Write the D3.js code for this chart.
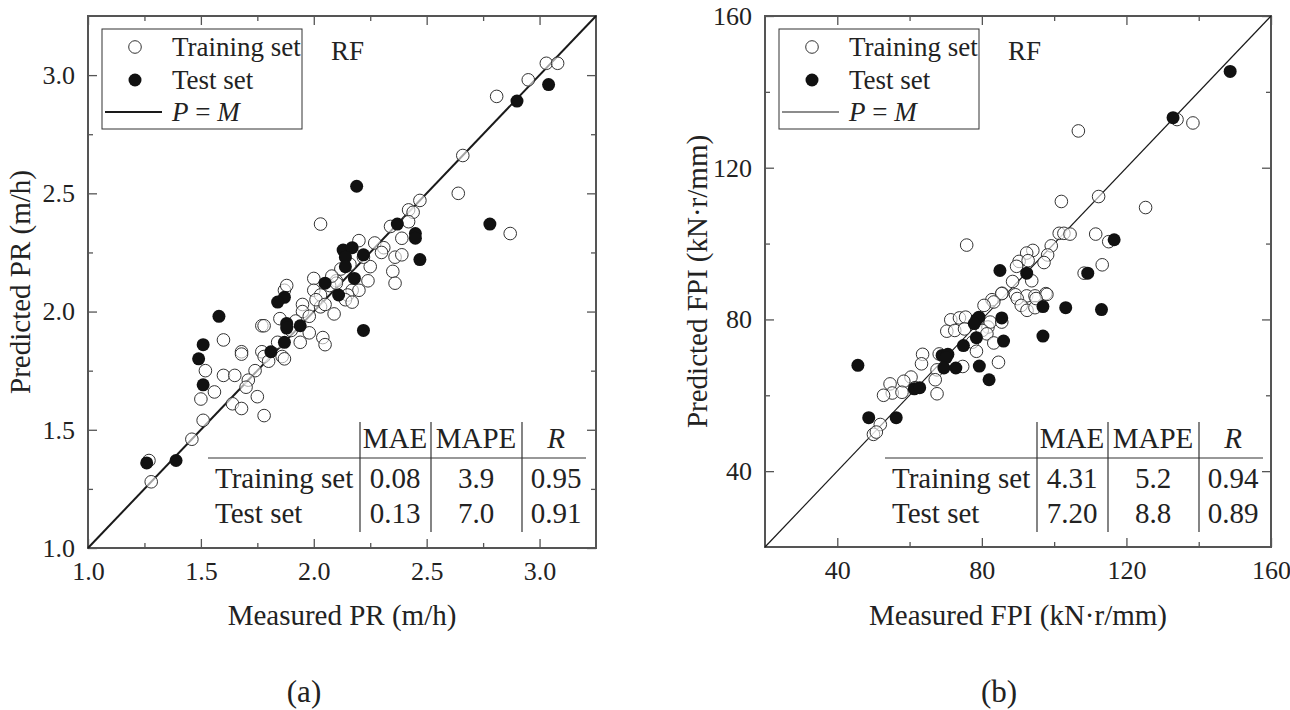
<!DOCTYPE html>
<html>
<head>
  <meta charset="utf-8" />
  <script src="https://d3js.org/d3.v7.min.js"></script>
  <style>
    body { margin: 0; padding: 0; background-color: #ffffff; }
    svg { display: block; }
    .tick line { stroke: #555; stroke-width: 1.3; }
  </style>
</head>
<body>
  <svg id="chart" width="1290" height="710"></svg>
  <script>
    // ---- data: [measured, predicted] pairs ----
    const prTrain = [
      [3.03,3.05],[3.08,3.05],[2.95,2.98],[2.81,2.91],[2.66,2.66],[2.64,2.50],[2.87,2.33],[2.03,2.37],
      [2.47,2.47],[2.42,2.43],[2.44,2.42],[2.34,2.36],[2.39,2.31],[2.42,2.38],[2.20,2.30],[2.27,2.29],
      [2.31,2.27],[2.36,2.23],[2.39,2.24],[2.35,2.17],[2.36,2.12],[2.25,2.19],[2.24,2.13],[2.00,2.14],
      [2.00,2.09],[2.10,2.13],[1.87,2.09],[2.03,2.07],[2.17,2.09],[2.20,2.09],[2.15,2.07],
      [1.88,2.11],[2.07,2.11],[2.14,2.05],[2.17,2.04],[1.95,2.03],[1.95,2.00],[1.85,1.97],[2.09,1.99],
      [2.03,2.02],[1.77,1.94],[1.78,1.94],[1.98,1.91],[1.94,1.87],[2.04,1.89],[2.05,1.86],[1.84,1.87],
      [1.60,1.88],[1.68,1.83],[1.68,1.82],[1.77,1.83],[1.78,1.81],[1.86,1.81],[1.87,1.80],[1.80,1.79],
      [1.74,1.75],[1.52,1.75],[1.60,1.73],[1.65,1.73],[1.71,1.71],[1.70,1.68],[1.50,1.63],[1.56,1.66],
      [1.75,1.64],[1.64,1.61],[1.68,1.59],[1.78,1.56],[1.51,1.54],[1.46,1.46],[1.27,1.37],[1.28,1.28],
      [2.01,2.05],[2.05,2.03],[1.98,1.98],[2.10,2.12],[2.12,2.18],[2.08,2.15],[2.16,2.20],[2.22,2.23],
      [2.30,2.25],[1.90,1.92],[1.92,1.96]
    ];
    const prTest = [
      [3.04,2.96],[2.90,2.89],[2.19,2.53],[2.78,2.37],[2.37,2.37],[2.45,2.33],[2.45,2.31],[2.47,2.22],
      [2.13,2.26],[2.17,2.27],[2.22,2.24],[2.14,2.23],[2.14,2.19],[2.18,2.14],[2.05,2.12],[2.11,2.07],
      [1.87,2.06],[1.84,2.04],[1.58,1.98],[1.88,1.95],[1.88,1.93],[1.94,1.94],[2.22,1.92],[1.51,1.86],
      [1.87,1.87],[1.49,1.80],[1.81,1.83],[1.51,1.69],[1.26,1.36],[1.39,1.37]
    ];
    const fpiTrain = [
      [134.0,132.7],[138.4,131.8],[106.7,129.7],[112.3,112.4],[102.0,111.1],[125.3,109.5],[75.8,99.6],
      [101.4,102.7],[102.7,102.7],[104.4,102.5],[111.5,102.5],[115.1,100.5],[99.2,99.4],[94.1,98.2],
      [92.4,97.5],[98.2,97.0],[90.3,95.3],[92.8,95.5],[97.2,95.0],[89.6,94.0],[113.3,94.4],[108.3,92.2],
      [88.5,90.0],[93.8,90.2],[85.6,86.9],[89.3,86.5],[92.4,86.2],[94.7,86.2],[97.7,86.8],[82.8,85.2],
      [89.8,85.5],[90.9,83.7],[92.5,82.4],[94.7,83.1],[98.0,86.6],[95.0,85.5],[85.5,86.8],[83.3,84.6],
      [80.6,83.7],[71.4,79.9],[73.8,80.4],[75.5,80.6],[70.3,76.9],[72.5,77.1],[75.2,77.5],[81.7,78.0],
      [82.3,79.3],[85.5,79.3],[80.1,77.1],[81.4,76.2],[83.3,73.8],[77.4,74.0],[78.5,71.6],[68.2,70.9],
      [63.6,70.8],[63.3,68.3],[74.7,67.6],[84.6,68.7],[67.6,66.7],[67.1,64.1],[60.4,64.8],[58.4,63.7],
      [54.6,63.0],[55.2,60.6],[52.8,60.0],[57.9,60.8],[67.6,60.4],[61.5,62.0],[51.9,52.3],[50.0,49.7],
      [50.8,50.3]
    ];
    const fpiTest = [
      [148.7,145.4],[132.9,133.2],[116.6,101.0],[85.0,92.9],[92.4,92.2],[109.3,92.2],[96.9,83.4],
      [103.2,83.1],[113.1,82.6],[85.5,80.4],[78.5,79.9],[79.2,80.6],[77.9,78.9],[96.9,75.6],[78.5,75.2],
      [86.0,74.3],[74.9,73.1],[69.0,70.5],[70.6,70.8],[70.1,69.9],[69.5,67.2],[72.8,67.2],[79.3,67.7],
      [45.7,67.9],[82.0,64.1],[61.3,61.7],[62.8,62.0],[48.7,54.1],[56.3,54.1]
    ];

    const prMajor = [1.0, 1.5, 2.0, 2.5, 3.0];
    const prMinor = [1.25, 1.75, 2.25, 2.75];
    const fpiMajor = [40, 80, 120, 160];
    const fpiMinor = [60, 100, 140];

    const tableCols = ["MAE", "MAPE", "R"];
    const tableRows = ["Training set", "Test set"];
    const prStats = [["0.08", "3.9", "0.95"], ["0.13", "7.0", "0.91"]];
    const fpiStats = [["4.31", "5.2", "0.94"], ["7.20", "8.8", "0.89"]];

    const serif = "'Liberation Serif', 'DejaVu Serif', serif";
    const svg = d3.select("#chart");
    svg.append("rect").attr("width", 1290).attr("height", 710).attr("fill", "#fff");

    function label(g, x, y, size, str) {
      return g.append("text").attr("x", x).attr("y", y)
        .style("font-family", serif).style("font-size", size + "px").style("fill", "#222")
        .text(str);
    }

    function drawPanel(cfg) {
      const x = d3.scaleLinear().domain(cfg.domain).range([cfg.left, cfg.right]);
      const y = d3.scaleLinear().domain(cfg.domain).range([cfg.bottom, cfg.top]);
      const g = svg.append("g");
      const fmt = cfg.format;

      // axes, ticks pointing inward on all four sides
      g.append("g").attr("transform", `translate(0,${cfg.bottom})`)
        .call(d3.axisBottom(x).tickValues(cfg.major).tickSize(-9).tickPadding(14).tickFormat(fmt));
      g.append("g").attr("transform", `translate(0,${cfg.bottom})`)
        .call(d3.axisBottom(x).tickValues(cfg.minor).tickSize(-5).tickFormat(""));
      g.append("g").attr("transform", `translate(${cfg.left},0)`)
        .call(d3.axisLeft(y).tickValues(cfg.major).tickSize(-9).tickPadding(13).tickFormat(fmt));
      g.append("g").attr("transform", `translate(${cfg.left},0)`)
        .call(d3.axisLeft(y).tickValues(cfg.minor).tickSize(-5).tickFormat(""));
      g.append("g").attr("transform", `translate(0,${cfg.top})`)
        .call(d3.axisTop(x).tickValues(cfg.major).tickSize(-9).tickFormat(""));
      g.append("g").attr("transform", `translate(0,${cfg.top})`)
        .call(d3.axisTop(x).tickValues(cfg.minor).tickSize(-5).tickFormat(""));
      g.append("g").attr("transform", `translate(${cfg.right},0)`)
        .call(d3.axisRight(y).tickValues(cfg.major).tickSize(-9).tickFormat(""));
      g.append("g").attr("transform", `translate(${cfg.right},0)`)
        .call(d3.axisRight(y).tickValues(cfg.minor).tickSize(-5).tickFormat(""));
      g.selectAll(".domain").remove();
      g.selectAll(".tick text")
        .style("font-family", serif).style("font-size", "26px").style("fill", "#222");

      g.append("rect")
        .attr("x", cfg.left).attr("y", cfg.top)
        .attr("width", cfg.right - cfg.left).attr("height", cfg.bottom - cfg.top)
        .attr("fill", "none").attr("stroke", "#555").attr("stroke-width", 2);

      // P = M line
      g.append("line")
        .attr("x1", x(cfg.domain[0])).attr("y1", y(cfg.domain[0]))
        .attr("x2", x(cfg.domain[1])).attr("y2", y(cfg.domain[1]))
        .attr("stroke", "#1a1a1a").attr("stroke-width", cfg.lineW);

      // points
      g.append("g").selectAll("circle").data(cfg.train).join("circle")
        .attr("cx", d => x(d[0])).attr("cy", d => y(d[1])).attr("r", 6.3)
        .attr("fill", "#fff").attr("fill-opacity", 0.6).attr("stroke", "#333").attr("stroke-width", 1);
      g.append("g").selectAll("circle").data(cfg.test).join("circle")
        .attr("cx", d => x(d[0])).attr("cy", d => y(d[1])).attr("r", 6.5)
        .attr("fill", "#111");

      // legend
      const L = cfg.left;
      g.append("rect").attr("x", L + 14).attr("y", 29).attr("width", 200).attr("height", 100)
        .attr("fill", "#fff").attr("stroke", "#333").attr("stroke-width", 1);
      g.append("circle").attr("cx", L + 47).attr("cy", 47).attr("r", 6.3)
        .attr("fill", "#fff").attr("stroke", "#333");
      g.append("circle").attr("cx", L + 47).attr("cy", 80).attr("r", 6.5).attr("fill", "#111");
      g.append("line").attr("x1", L + 17).attr("x2", L + 74).attr("y1", 112).attr("y2", 112)
        .attr("stroke", "#1a1a1a").attr("stroke-width", cfg.lineW);
      label(g, L + 84, 56, 27, "Training set");
      label(g, L + 84, 89, 27, "Test set");
      const pm = label(g, L + 84, 121, 27, null);
      pm.append("tspan").style("font-style", "italic").text("P");
      pm.append("tspan").text(" = ");
      pm.append("tspan").style("font-style", "italic").text("M");
      label(g, L + 243, 60, 27, "RF");

      // statistics table
      const colX = [L + 307, L + 388, L + 468];
      g.append("line").attr("x1", L + 120).attr("x2", L + 498).attr("y1", 458).attr("y2", 458)
        .attr("stroke", "#333").attr("stroke-width", 1.2);
      [L + 272, L + 343, L + 434].forEach(sx => {
        g.append("line").attr("x1", sx).attr("x2", sx).attr("y1", 422).attr("y2", 532)
          .attr("stroke", "#333").attr("stroke-width", 1.2);
      });
      tableCols.forEach((c, i) => {
        label(g, colX[i], 448, 29, c).attr("text-anchor", "middle")
          .style("font-style", c === "R" ? "italic" : null);
      });
      tableRows.forEach((r, j) => {
        const yy = 488 + j * 35;
        label(g, L + 127, yy, 29, r);
        cfg.stats[j].forEach((v, i) => {
          label(g, colX[i], yy, 29, v).attr("text-anchor", "middle");
        });
      });

      // axis titles and panel label
      const cx = (cfg.left + cfg.right) / 2;
      label(g, cx, 625, 29, cfg.xTitle).attr("text-anchor", "middle");
      label(g, 0, 0, 29, cfg.yTitle).attr("text-anchor", "middle")
        .attr("transform", `translate(${cfg.left - 58},${(cfg.top + cfg.bottom) / 2}) rotate(-90)`);
      label(g, cfg.labelX, 702, 31, cfg.label).attr("text-anchor", "middle");
    }

    drawPanel({
      left: 88, right: 596, top: 16, bottom: 548, domain: [1, 3.25],
      major: prMajor, minor: prMinor, format: d3.format(".1f"), lineW: 2,
      train: prTrain, test: prTest, stats: prStats,
      xTitle: "Measured PR (m/h)", yTitle: "Predicted PR (m/h)", label: "(a)", labelX: 304
    });
    drawPanel({
      left: 765, right: 1271, top: 16, bottom: 547, domain: [20, 160],
      major: fpiMajor, minor: fpiMinor, format: d3.format("d"), lineW: 1.2,
      train: fpiTrain, test: fpiTest, stats: fpiStats,
      xTitle: "Measured FPI (kN\u00b7r/mm)", yTitle: "Predicted FPI (kN\u00b7r/mm)", label: "(b)", labelX: 999
    });
  </script>
</body>
</html>
